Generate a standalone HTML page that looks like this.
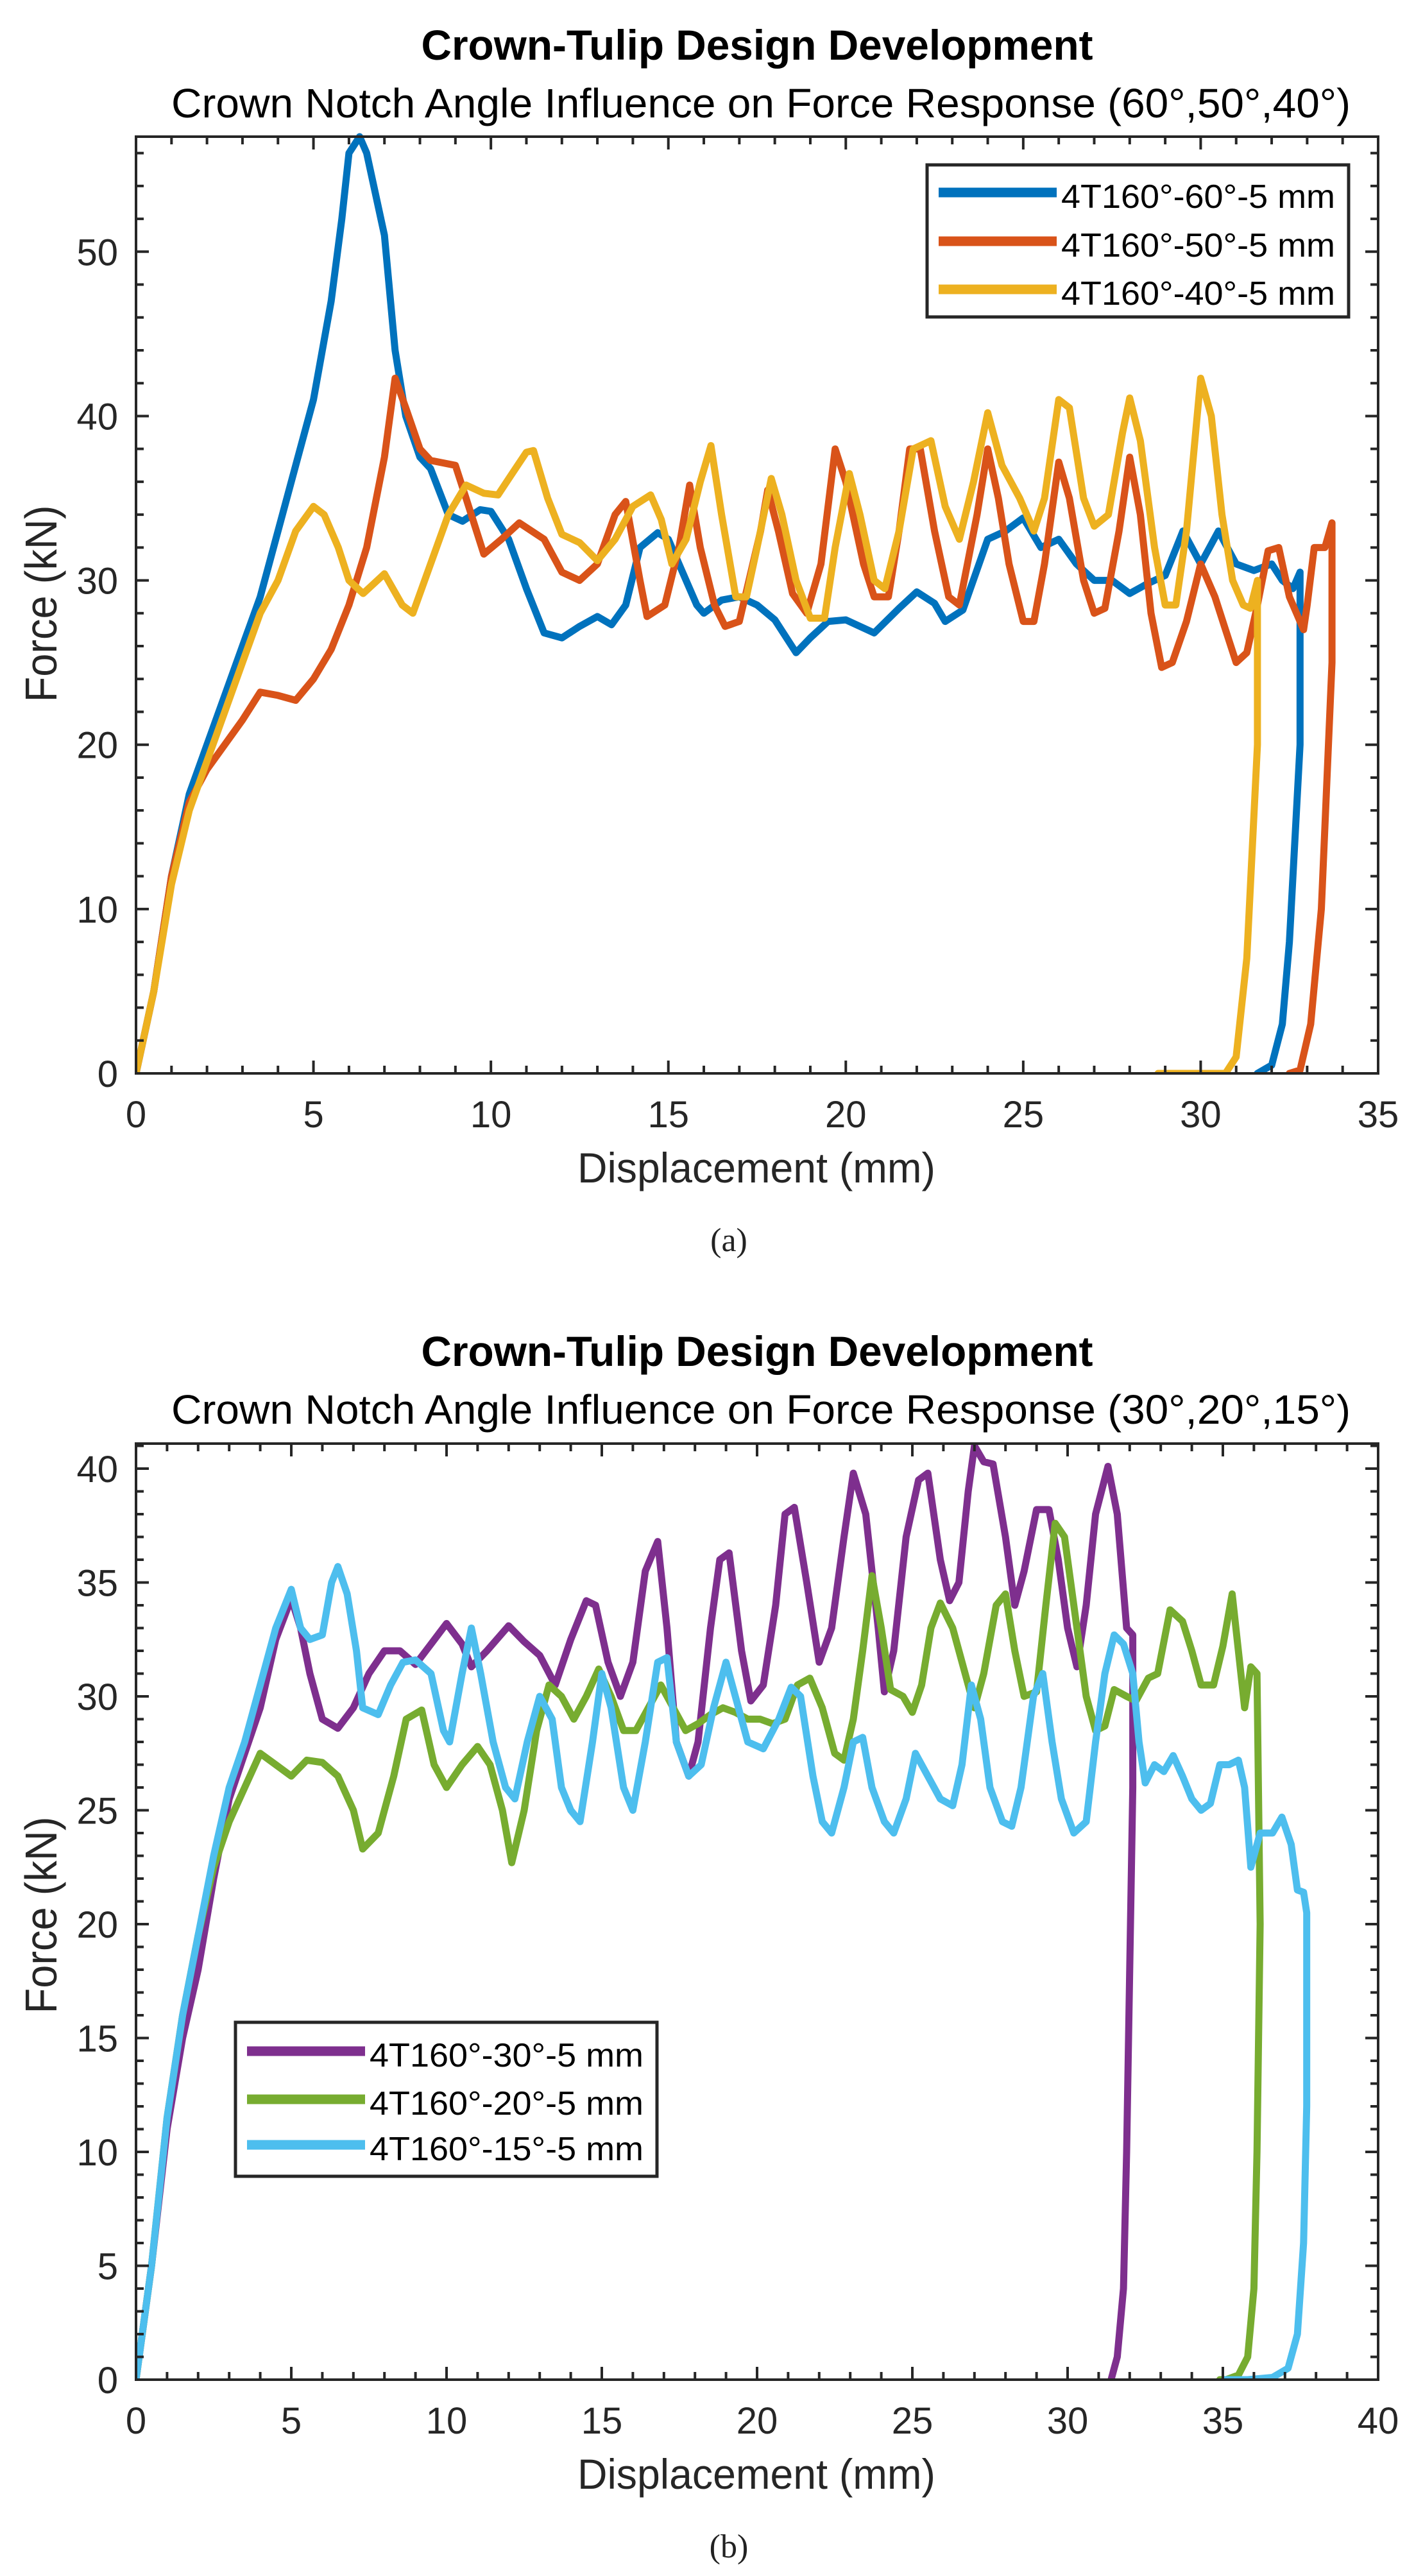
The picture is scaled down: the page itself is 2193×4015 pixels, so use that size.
<!DOCTYPE html>
<html><head><meta charset="utf-8"><style>
html,body{margin:0;padding:0;background:#fff;}
svg{display:block;font-family:"Liberation Sans",Arial,sans-serif;}
</style></head><body>
<svg id="fig" width="2193" height="4015" viewBox="0 0 2193 4015" xmlns="http://www.w3.org/2000/svg">
<rect width="2193" height="4015" fill="#fff"/>
<g id="chartA"></g>
<g id="chartB"></g>
</svg>
<script>
// ---- Chart (a) data ----
const aXTicks = [0,5,10,15,20,25,30,35];
const aYTicks = [0,10,20,30,40,50];
const a60x = [0,0.5,1,1.5,2,2.5,3,3.5,4,4.5,5,5.5,5.8,6,6.3,6.5,7,7.3,7.6,8,8.3,8.8,9.2,9.7,10,10.5,11,11.5,12,12.5,13,13.4,13.8,14.2,14.7,15,15.4,15.8,16,16.5,17,17.5,18,18.6,19,19.5,20,20.8,21.5,22,22.5,22.8,23.3,24,24.5,25,25.5,26,26.5,27,27.5,28,28.5,29,29.5,30,30.5,31,31.5,32,32.3,32.6,32.8,32.8,32.5,32.3,32,31.6];
const a60y = [0,5,12,17,20,23,26,29,33,37,41,47,52,56,57,56,51,44,40,37.5,36.8,34,33.6,34.3,34.2,32.5,29.5,26.8,26.5,27.2,27.8,27.3,28.5,32,32.9,32.5,30.5,28.5,28,28.8,29,28.5,27.6,25.6,26.5,27.5,27.6,26.8,28.3,29.3,28.6,27.5,28.2,32.5,33,33.8,32,32.5,31,30,30,29.2,29.8,30.3,33,31,33,31,30.6,31,30,29.5,30.5,20,8,3,0.5,0];
const a50x = [0,0.5,1,1.5,2,2.5,3,3.5,4,4.5,5,5.5,6,6.5,7,7.3,7.6,8,8.3,9,9.3,9.8,10.3,10.8,11.5,12,12.5,13,13.5,13.8,14.2,14.4,14.9,15.3,15.6,15.9,16.3,16.6,17,17.6,17.8,18.1,18.5,18.9,19.3,19.7,20,20.5,20.8,21.2,21.5,21.8,22.1,22.5,22.9,23.2,23.7,24,24.3,24.6,25,25.3,25.6,26,26.3,26.7,27,27.3,27.7,28,28.3,28.6,28.9,29.2,29.6,30,30.4,30.7,31,31.3,31.6,31.9,32.2,32.5,32.7,32.9,33,33.2,33.5,33.7,33.7,33.4,33.1,32.8,32.5];
const a50y = [0,5,12,16.5,18.5,20,21.5,23.2,23,22.7,24,25.8,28.5,32,37.5,42.3,40.5,38,37.3,37,35,31.6,32.5,33.5,32.5,30.5,30,31,34,34.8,30,27.8,28.5,32,35.8,32,28.5,27.2,27.5,33,35.5,33,29.2,28,31,38,36,31,29,29,33,38,38,33,29,28.5,34,38,35,31,27.5,27.5,31,37.2,35,30,28,28.3,33,37.5,34,28,24.7,25,27.5,31,29,27,25,25.6,28.5,31.8,32,29,28,27,28.5,32,32,33.5,25,10,3,0.2,0];
const a40x = [0,0.5,1,1.5,2,2.5,3,3.5,4,4.5,5,5.3,5.7,6,6.4,7,7.5,7.8,8.3,8.8,9.3,9.8,10.2,10.6,11,11.2,11.6,12,12.5,13,13.5,14,14.5,14.8,15.1,15.5,15.9,16.2,16.5,16.9,17.2,17.5,17.9,18.2,18.6,19,19.4,19.7,20.1,20.4,20.8,21.1,21.5,21.9,22.4,22.8,23.2,23.6,24,24.4,24.9,25.3,25.6,26,26.3,26.7,27,27.4,27.8,28,28.3,28.7,29,29.3,29.6,30,30.3,30.6,30.9,31.2,31.4,31.6,31.6,31.3,31,30.7,28.8];
const a40y = [0,5,11.5,16,19,22,25,28,30,33,34.5,34,32,30,29.2,30.4,28.5,28,31,34,35.8,35.3,35.2,36.5,37.8,37.9,35,32.8,32.3,31.2,32.5,34.5,35.2,33.7,31,32.5,36,38.2,34,29,29,32,36.2,34,30,27.7,27.7,32,36.5,34,30,29.5,33,38,38.5,34.5,32.5,36,40.2,37,35,33,35,41,40.5,35,33.3,34,39,41.1,38.5,32,28.5,28.5,33,42.3,40,34,30,28.5,28.3,30,20,7,1,0,0];
const aLegend = ["4T160°-60°-5 mm","4T160°-50°-5 mm","4T160°-40°-5 mm"];

// ---- Chart (b) data ----
const bXTicks = [0,5,10,15,20,25,30,35,40];
const bYTicks = [0,5,10,15,20,25,30,35,40];
const b30x = [0,0.5,1,1.5,2,2.5,3,3.5,4,4.5,5,5.3,5.6,6,6.5,7,7.5,8,8.5,9,9.5,10,10.5,10.8,11.3,12,12.5,13,13.5,14,14.5,14.8,15.2,15.6,16,16.4,16.8,17.1,17.4,17.8,18.1,18.5,18.8,19.1,19.5,19.8,20.2,20.6,20.9,21.2,21.6,22,22.4,22.8,23.1,23.5,23.9,24.1,24.4,24.8,25.2,25.5,25.9,26.2,26.5,26.8,27,27.3,27.6,28,28.3,28.6,29,29.4,29.7,30,30.3,30.6,30.9,31.3,31.6,31.9,32.1,32.1,32,31.9,31.8,31.6,31.4];
const b30y = [0,5,11,15,18,22,25.5,27.5,29.5,32.5,34.3,33,31,29,28.6,29.5,31,32,32,31.4,32.3,33.2,32.3,31.3,32,33.1,32.4,31.8,30.5,32.5,34.2,34,31.5,30,31.5,35.5,36.8,33,28,26.5,28,33,36,36.3,32,29.8,30.5,34,38,38.3,35,31.5,33,37,39.8,38,33,30.2,32,37,39.5,39.8,36,34.2,35,39,41,40.3,40.2,37,34,35.5,38.2,38.2,36,33,31.3,34,38,40.1,38,33,32.7,26,18,10,4,1,0];
const b20x = [0,0.5,1,1.5,2,2.5,3,3.5,4,4.5,5,5.5,6,6.5,7,7.3,7.8,8.3,8.7,9.2,9.6,10,10.5,11,11.4,11.8,12.1,12.5,12.9,13.3,13.7,14.1,14.5,14.9,15.3,15.7,16.1,16.5,16.9,17.3,17.7,18.1,18.5,18.9,19.3,19.7,20.1,20.5,20.9,21.3,21.7,22.1,22.5,22.8,23.1,23.4,23.7,24,24.3,24.7,25,25.3,25.6,25.9,26.3,26.7,27,27.3,27.7,28,28.3,28.6,29,29.3,29.6,29.9,30.2,30.6,30.9,31.2,31.5,31.9,32.2,32.6,32.9,33.3,33.7,34,34.3,34.7,35,35.3,35.5,35.7,35.9,36.1,36.2,36.1,36,35.8,35.5,35.1,34.9];
const b20y = [0,5,11.5,16,19.5,22.5,24.5,26,27.5,27,26.5,27.2,27.1,26.5,25,23.3,24,26.5,29,29.4,27,26,27,27.8,27,25,22.7,25,28.5,30.5,30,29,30,31.2,30,28.5,28.5,29.5,30.5,29.5,28.5,28.8,29.2,29.5,29.3,29,29,28.8,29,30.5,30.8,29.5,27.5,27.2,29,32,35.3,33,30.3,30,29.3,30.5,33,34.1,33,31,29.5,31,34,34.5,32,30,30.2,34,37.6,37,34,30,28.5,28.7,30.3,30,29.8,30.8,31,33.8,33.3,32,30.5,30.5,32.2,34.5,32,29.5,31.3,31,20,10,4,1,0.2,0,0];
const b15x = [0,0.5,1,1.5,2,2.5,3,3.5,4,4.5,5,5.3,5.6,6,6.3,6.5,6.8,7.1,7.3,7.8,8.2,8.6,9,9.5,9.9,10.1,10.5,10.8,11.1,11.5,11.9,12.2,12.6,13,13.4,13.7,14,14.3,14.7,15,15.3,15.7,16,16.4,16.8,17.1,17.4,17.8,18.2,18.6,19,19.3,19.7,20.2,20.7,21.1,21.4,21.8,22.1,22.4,22.8,23.1,23.4,23.7,24.1,24.4,24.8,25.1,25.5,25.9,26.3,26.6,26.9,27.2,27.5,27.9,28.2,28.5,28.9,29.2,29.5,29.8,30.2,30.6,30.9,31.2,31.5,31.8,32.1,32.3,32.5,32.8,33.1,33.4,33.7,34,34.3,34.6,34.9,35.2,35.5,35.7,35.9,36.2,36.6,36.9,37.2,37.4,37.6,37.7,37.7,37.6,37.4,37.1,36.6,35.8,35.1];
const b15y = [0,5,11.5,16,19.5,23,26,28,30.5,33,34.7,33,32.5,32.7,35,35.7,34.5,32,29.5,29.2,30.5,31.5,31.6,31,28.5,28,31,33,31,28,26,25.5,28,30,29,26,25,24.5,28,31,29.5,26,25,28,31.5,31.7,28,26.5,27,29.5,31.5,30,28,27.7,29,30.4,30,26.5,24.5,24,26,28,28.2,26,24.5,24,25.5,27.5,26.5,25.5,25.2,27,30.5,29,26,24.5,24.3,26,30,31,28,25.5,24,24.5,28,31,32.7,32.3,31,28,26.2,27,26.7,27.4,26.5,25.5,25,25.3,27,27,27.2,26,22.5,24,24,24.7,23.5,21.5,21.4,20.5,12,6,2,0.5,0.1,0,0];
const bLegend = ["4T160°-30°-5 mm","4T160°-20°-5 mm","4T160°-15°-5 mm"];

const NS = "http://www.w3.org/2000/svg";
function mk(parent, tag, attrs, text){
  const e = document.createElementNS(NS, tag);
  for (const k in attrs) e.setAttribute(k, attrs[k]);
  if (text !== undefined) e.textContent = text;
  parent.appendChild(e);
  return e;
}

function drawChart(g, cfg){
  const L=212, R=2148, T=cfg.top, B=cfg.bottom;
  const sx = v => L + (v - 0) / cfg.xmax * (R - L);
  const sy = v => B - v / cfg.ymax * (B - T);
  const t1 = mk(g,'text',{x:1180,y:cfg.titleY,'text-anchor':'middle','font-size':66,'font-weight':'bold',fill:'#000',textLength:1047,lengthAdjust:'spacingAndGlyphs'},"Crown-Tulip Design Development");
  
  
  const t2 = mk(g,'text',{x:1186,y:cfg.subY,'text-anchor':'middle','font-size':64,fill:'#000',textLength:1838,lengthAdjust:'spacingAndGlyphs'},cfg.subtitle);
  
  
  const clipId = cfg.id+'clip';
  const defs = mk(g,'defs',{});
  const cp = mk(defs,'clipPath',{id:clipId});
  mk(cp,'rect',{x:L,y:T-6,width:R-L,height:B-T+6});
  const sg = mk(g,'g',{'clip-path':'url(#'+clipId+')'});
  
  
  cfg.series.forEach((s)=>{
    let d='';
    s.x.forEach((xv,i)=>{ d += (i?'L':'M') + sx(xv).toFixed(1) + ',' + sy(s.y[i]).toFixed(1); });
    const p = mk(sg,'path',{d:d,fill:'none',stroke:s.color,'stroke-width':11,'stroke-linejoin':'round','stroke-linecap':'round'});
    
    
  });
  const box = mk(g,'rect',{x:L,y:T,width:R-L,height:B-T,fill:'none',stroke:'#262626','stroke-width':4});
  
  
  let td='';
  for (let v=0; v<=cfg.xmax+1e-9; v+=cfg.xminor){
    const major = Math.abs(v/5 - Math.round(v/5))<1e-6;
    const len = major?20:12, X=sx(v);
    td += `M${X},${B}v${-len}M${X},${T}v${len}`;
  }
  for (let v=0; v<=cfg.ymax+1e-9; v+=cfg.yminor){
    const major = Math.abs(v/cfg.ymajor - Math.round(v/cfg.ymajor))<1e-6;
    const len = major?20:12, Y=sy(v);
    td += `M${L},${Y}h${len}M${R},${Y}h${-len}`;
  }
  const tk = mk(g,'path',{d:td,stroke:'#262626','stroke-width':4,fill:'none'});
  
  
  cfg.xticks.forEach(v=>{
    const t = mk(g,'text',{x:sx(v),y:B+84,'text-anchor':'middle','font-size':58,fill:'#262626'},String(v));
    
    
  });
  cfg.yticks.forEach(v=>{
    const t = mk(g,'text',{x:184,y:sy(v)+21,'text-anchor':'end','font-size':58,fill:'#262626'},String(v));
    
    
  });
  const xl = mk(g,'text',{x:1179,y:B+170,'text-anchor':'middle','font-size':66,fill:'#262626',textLength:558,lengthAdjust:'spacingAndGlyphs'},"Displacement (mm)");
  
  
  const yl = mk(g,'text',{x:0,y:0,'text-anchor':'middle','font-size':70,fill:'#262626',textLength:307,lengthAdjust:'spacingAndGlyphs',transform:`translate(88,${cfg.ylabelY}) rotate(-90)`},"Force (kN)");
  
  
  const cap = mk(g,'text',{x:1136,y:B+277,'text-anchor':'middle','font-size':52,'font-family':'"Liberation Serif",serif',fill:'#222'},cfg.caption);
  
  
  const lg = mk(g,'g',{});
  
  
  const lb = cfg.legendBox;
  mk(lg,'rect',{x:lb[0],y:lb[1],width:lb[2]-lb[0],height:lb[3]-lb[1],fill:'#fff',stroke:'#262626','stroke-width':5});
  cfg.legendLabels.forEach((lab,i)=>{
    const y = cfg.legendRows[i];
    const ln = mk(lg,'line',{x1:lb[0]+18,x2:lb[0]+202,y1:y,y2:y,stroke:cfg.series[i].color,'stroke-width':15});
    
    
    const tx = mk(lg,'text',{x:lb[0]+209,y:y+24,'font-size':52,fill:'#000',textLength:427,lengthAdjust:'spacingAndGlyphs'},lab);
    
    
  });
}

drawChart(document.getElementById('chartA'),{
  id:'a', top:213, bottom:1673, xmax:35, ymax:57, xminor:1, yminor:2, ymajor:10,
  titleY:93, subY:183, ylabelY:941, caption:"(a)",
  subtitle:"Crown Notch Angle Influence on Force Response (60°,50°,40°)",
  xticks:aXTicks, yticks:aYTicks,
  series:[{x:a60x,y:a60y,color:'#0072BD',name:'series-60deg'},{x:a50x,y:a50y,color:'#D95319',name:'series-50deg'},{x:a40x,y:a40y,color:'#EDB120',name:'series-40deg'}],
  legendLabels:aLegend, legendBox:[1445,257,2102,494], legendRows:[300,376,451]
});
drawChart(document.getElementById('chartB'),{
  id:'b', top:2250, bottom:3709, xmax:40, ymax:41.1, xminor:1, yminor:1, ymajor:5,
  titleY:2129, subY:2219, ylabelY:2985, caption:"(b)",
  subtitle:"Crown Notch Angle Influence on Force Response (30°,20°,15°)",
  xticks:bXTicks, yticks:bYTicks,
  series:[{x:b30x,y:b30y,color:'#7E2F8E',name:'series-30deg'},{x:b20x,y:b20y,color:'#77AC30',name:'series-20deg'},{x:b15x,y:b15y,color:'#4DBEEE',name:'series-15deg'}],
  legendLabels:bLegend, legendBox:[367,3152,1024,3392], legendRows:[3197,3272,3343]
});
</script>
</body></html>
